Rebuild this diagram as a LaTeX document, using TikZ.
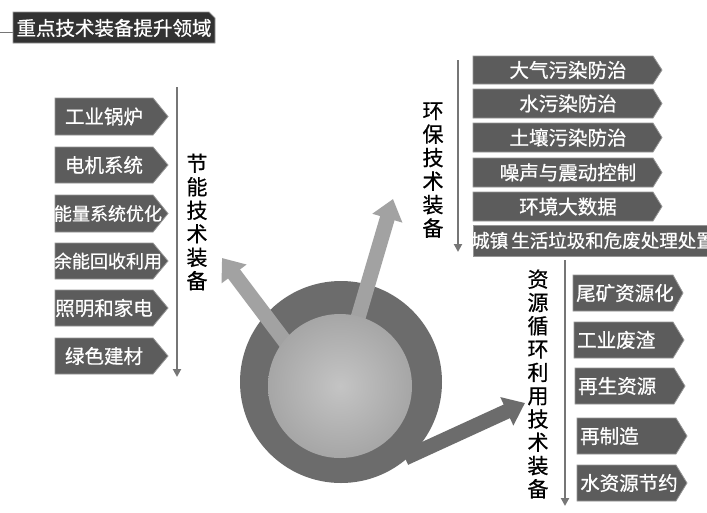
\documentclass[tikz,border=0pt]{standalone}
\usepackage{fontspec}
\setmainfont{Noto Sans CJK SC}[FakeBold=0.7]
\usetikzlibrary{arrows.meta}
\definecolor{boxfill}{RGB}{92,92,92}
\definecolor{boxline}{RGB}{150,150,150}
\definecolor{titlefill}{RGB}{50,50,50}
\definecolor{ringcol}{RGB}{108,108,108}
\definecolor{lightarr}{RGB}{162,162,162}
\definecolor{innerout}{RGB}{166,166,166}
\definecolor{innerin}{RGB}{196,196,196}
\definecolor{axiscol}{RGB}{118,118,118}
\newcommand{\arrbox}[8]{%
  \draw[boxsty] (#2,#5) -- (#3,#5) -- (#4,{(#5+#6)/2}) -- (#3,#6) -- (#2,#6) -- cycle;
  \node[boxtext,#7] (#1) at ({(#2+#3)/2},{(#5+#6)/2}) {#8};}
\newcommand{\arrboxL}[8]{%
  \draw[boxsty] (#2,#5) -- (#3,#5) -- (#4,{(#5+#6)/2}) -- (#3,#6) -- (#2,#6) -- cycle;
  \node[boxtext,anchor=west,#7] (#1) at ({#2+3},{(#5+#6)/2}) {#8};}
\begin{document}
\begin{tikzpicture}[x=1pt,y=-1pt,
  boxsty/.style={fill=boxfill,draw=boxline,line width=0.8pt},
  boxtext/.style={text=white,inner sep=0pt,font=\fontsize{19.5}{21}\selectfont},
  smalltext/.style={font=\fontsize{18}{20}\selectfont},
  vtext/.style={align=center,inner sep=0pt,text=black,font=\fontsize{21}{23.5}\selectfont},
  axis/.style={draw=axiscol,line width=2.2pt,-{Triangle[length=8pt,width=8pt]}},
  bigarrow/.style={line width=15pt,-{Triangle[length=20pt,width=30pt]}}]
\useasboundingbox (0,0) rectangle (707,512);
\clip (0,0) rectangle (707,512);
\fill[white] (0,0) rectangle (707,512);

% title
\coordinate (tl) at (0,32);
\coordinate (tbw) at (13,32);
\draw[axiscol,line width=1pt] (tl) -- (tbw);
\draw[fill=titlefill,draw=boxline,line width=0.8pt] (13,12) -- (209,12) -- (215,18) -- (215,43) -- (13,43) -- cycle;
\node[text=white,inner sep=0pt,font=\fontsize{19.5}{21}\selectfont] (title) at (114,28) {重点技术装备提升领域};

% left group
\coordinate (la1) at (177,87);
\coordinate (la2) at (177,377);
\draw[axis] (la1) -- (la2);
\node[vtext] (jn) at (197,222) {节\\能\\技\\术\\装\\备};
\arrbox{l1}{55}{153}{168}{98}{135}{}{工业锅炉}
\arrbox{l2}{55}{153}{168}{147}{183}{}{电机系统}
\arrbox{l3}{55}{153}{168}{195}{232}{smalltext,xshift=4pt}{能量系统优化}
\arrbox{l4}{55}{153}{168}{243}{279}{smalltext,xshift=4pt}{余能回收利用}
\arrbox{l5}{55}{153}{168}{290}{326}{}{照明和家电}
\arrbox{l6}{55}{153}{168}{338}{374}{}{绿色建材}

% top right group
\coordinate (ta1) at (458,60);
\coordinate (ta2) at (458,252);
\draw[axis] (ta1) -- (ta2);
\node[vtext] (hb) at (433,170) {环\\保\\技\\术\\装\\备};
\arrbox{t1}{473}{653}{662}{56}{84}{xshift=5pt}{大气污染防治}
\arrbox{t2}{473}{653}{662}{89}{118}{xshift=5pt}{水污染防治}
\arrbox{t3}{473}{653}{662}{123}{152}{xshift=5pt}{土壤污染防治}
\arrbox{t4}{473}{653}{662}{158}{187}{xshift=5pt}{噪声与震动控制}
\arrbox{t5}{473}{653}{662}{192}{221}{xshift=5pt}{环境大数据}
\draw[boxsty] (473,225) rectangle (720,256);
\node[boxtext,anchor=west,font=\fontsize{18.5}{20}\selectfont] (t6) at (471,240.5) {城镇\,生活垃圾和危废处理处置};

% bottom right group
\coordinate (ba1) at (565,260);
\coordinate (ba2) at (565,506);
\draw[axis] (ba1) -- (ba2);
\node[vtext,font=\fontsize{21}{23.3}\selectfont] (zy) at (538,384) {资\\源\\循\\环\\利\\用\\技\\术\\装\\备};
\arrboxL{b1}{573}{673}{683}{275}{311}{}{尾矿资源化}
\arrboxL{b2}{574}{673}{684}{322}{358}{}{工业废渣}
\arrboxL{b3}{575}{674}{685}{368}{404}{}{再生资源}
\arrboxL{b4}{577}{676}{687}{418}{454}{}{再制造}
\arrboxL{b5}{577}{676}{687}{465}{501}{}{水资源节约}

% circle
\coordinate (cc) at (341,382);
\fill[ringcol] (cc) circle (101);
\coordinate (a1s) at (308,372);
\coordinate (a1e) at (222,258);
\coordinate (a2s) at (350,345);
\coordinate (a2e) at (393,199);
\coordinate (a3s) at (405,458);
\coordinate (a3e) at (525,403);
\draw[bigarrow,draw=lightarr,fill=lightarr] (a1s) -- (a1e);
\draw[bigarrow,draw=lightarr,fill=lightarr] (a2s) -- (a2e);
\draw[bigarrow,draw=ringcol,fill=ringcol] (a3s) -- (a3e);
\coordinate (ic) at (340,386);
\shade[inner color=innerin,outer color=innerout] (ic) circle (72);
\end{tikzpicture}
\end{document}
